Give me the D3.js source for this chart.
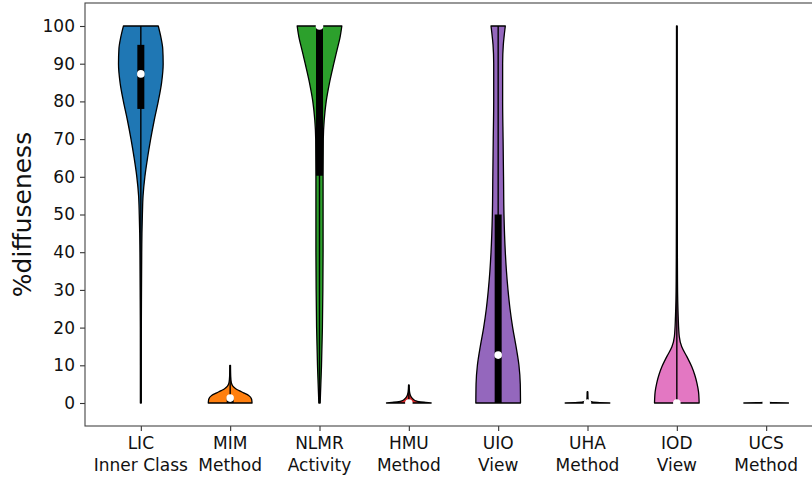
<!DOCTYPE html>
<html>
<head>
<meta charset="utf-8">
<script src="https://cdn.jsdelivr.net/npm/d3@7"></script>
<style>
  body { margin: 0; background: #fff; }
  text { font-family: "DejaVu Sans", sans-serif; }
</style>
</head>
<body>
<div id="chart"></div>
<script>
// Categories (two-line tick labels)
const names = ["LIC", "MIM", "NLMR", "HMU", "UIO", "UHA", "IOD", "UCS"];
const kinds = ["Inner Class", "Method", "Activity", "Method", "View", "Method", "View", "Method"];

// Violin outlines: [value, relative half width]
const licProfile = [[0,0.02],[10,0.02],[20,0.022],[30,0.03],[40,0.04],[45,0.05],[50,0.07],[55,0.1],[60,0.18],[65,0.3],[70,0.44],[75,0.6],[80,0.78],[85,0.93],[90,1.0],[94,0.98],[97,0.9],[100,0.78]];
const mimProfile = [[0,0.98],[1,0.96],[2,0.83],[2.7,0.6],[3.3,0.4],[3.8,0.25],[4.5,0.12],[5.5,0.05],[7,0.025],[10,0.015]];
const nlmrProfile = [[0,0.03],[5,0.06],[10,0.09],[20,0.13],[30,0.15],[40,0.16],[50,0.16],[60,0.16],[70,0.17],[75,0.21],[80,0.3],[85,0.45],[90,0.64],[94,0.8],[97,0.92],[100,1.0]];
const hmuProfile = [[0,1.0],[0.15,0.75],[0.35,0.45],[0.6,0.3],[1,0.2],[1.5,0.12],[2.2,0.06],[3,0.03],[4.8,0.012]];
const uioProfile = [[0,1.0],[5,0.99],[10,0.93],[15,0.8],[20,0.65],[25,0.53],[30,0.44],[35,0.37],[40,0.32],[50,0.26],[60,0.24],[70,0.22],[80,0.2],[90,0.2],[95,0.23],[98,0.28],[100,0.32]];
const uhaProfile = [[0,1.0],[0.12,0.55],[0.3,0.2],[0.6,0.06],[1.2,0.02],[3,0.01]];
const iodProfile = [[0,1.0],[3,0.97],[5.3,0.9],[7.5,0.8],[9.6,0.67],[12.3,0.45],[14.9,0.22],[17.6,0.11],[23,0.06],[32,0.03],[50,0.02],[100,0.015]];
const ucsProfile = [[0,1.0],[0.08,0.4],[0.15,0.1],[0.25,0.02]];
const profiles = [licProfile, mimProfile, nlmrProfile, hmuProfile, uioProfile, uhaProfile, iodProfile, ucsProfile];

// Box statistics
const quartile1 = [78, 0, 60.3, 0, 0, 0, 0, 0];
const medians = [87.3, 1.3, 100, 0, 12.7, 0, 0, 0];
const quartile3 = [95, 1.5, 100, 0, 50, 0, 0, 0];
const whiskerMin = [0, 0, 0, 0, 0, 0, 0, 0];
const whiskerMax = [100, 10, 100, 4.8, 100, 3, 100, 0];

const yTicks = [0, 10, 20, 30, 40, 50, 60, 70, 80, 90, 100];
const colors = ["#1f77b4", "#ff7f0e", "#2ca02c", "#d62728", "#9467bd", "#8c564b", "#e377c2", "#7f7f7f"];

const width = 812, height = 479;
const margin = {top: 3, left: 85, bottom: 426, right: 822};

const svg = d3.select("#chart").append("svg")
    .attr("width", width)
    .attr("height", height);

const x = d3.scaleLinear().domain([0.375, 8.625]).range([margin.left, margin.right]);
const y = d3.scaleLinear().domain([-6.1, 106.1]).range([margin.bottom, margin.top]);
const halfWidth = x(1.25) - x(1);

const plot = svg.append("g");

// Violins
profiles.forEach((prof, i) => {
    const cx = x(i + 1);
    const pts = prof.slice().sort((a, b) => b[0] - a[0]);
    const area = d3.area()
        .curve(d3.curveMonotoneY)
        .y(d => y(d[0]))
        .x0(d => cx - d[1] * halfWidth)
        .x1(d => cx + d[1] * halfWidth);
    plot.append("path")
        .datum(pts)
        .attr("d", area)
        .attr("fill", colors[i])
        .attr("stroke", "#000")
        .attr("stroke-width", 1.3)
        .attr("stroke-linejoin", "round");
});

// Whiskers, quartile bars, medians
names.forEach((n, i) => {
    const cx = x(i + 1);
    plot.append("line")
        .attr("x1", cx).attr("x2", cx)
        .attr("y1", y(whiskerMin[i])).attr("y2", y(whiskerMax[i]))
        .attr("stroke", "#000").attr("stroke-width", 1.4);
    if (quartile3[i] > quartile1[i]) {
        plot.append("line")
            .attr("x1", cx).attr("x2", cx)
            .attr("y1", y(quartile1[i])).attr("y2", y(quartile3[i]))
            .attr("stroke", "#000").attr("stroke-width", 7);
    }
    plot.append("circle")
        .attr("cx", cx).attr("cy", y(medians[i]))
        .attr("r", 3.8)
        .attr("fill", "#fff");
});

// Axes
const yAxis = d3.axisLeft(y).tickValues(yTicks).tickSize(5).tickPadding(5);
const gy = svg.append("g")
    .attr("transform", `translate(${margin.left},0)`)
    .call(yAxis);
gy.select(".domain").remove();
gy.selectAll("line").attr("stroke", "#333").attr("stroke-width", 1.1);
gy.selectAll("text").style("font-size", "17px").attr("fill", "#111");

const xAxis = d3.axisBottom(x).tickValues(d3.range(1, 9)).tickSize(5).tickFormat("");
const gx = svg.append("g")
    .attr("transform", `translate(0,${margin.bottom})`)
    .call(xAxis);
gx.select(".domain").remove();
gx.selectAll("line").attr("stroke", "#333").attr("stroke-width", 1.1);

names.forEach((n, i) => {
    const t = svg.append("text")
        .attr("x", x(i + 1))
        .attr("text-anchor", "middle")
        .style("font-size", "17px")
        .attr("fill", "#111");
    t.append("tspan").attr("x", x(i + 1)).attr("y", 449).text(n);
    t.append("tspan").attr("x", x(i + 1)).attr("y", 471).text(kinds[i]);
});

// Frame
svg.append("rect")
    .attr("x", margin.left).attr("y", margin.top)
    .attr("width", margin.right - margin.left)
    .attr("height", margin.bottom - margin.top)
    .attr("fill", "none")
    .attr("stroke", "#444")
    .attr("stroke-width", 1.1);

// Y label
svg.append("text")
    .attr("transform", `translate(31,${(margin.top + margin.bottom) / 2}) rotate(-90)`)
    .attr("text-anchor", "middle")
    .style("font-size", "25px")
    .attr("fill", "#111")
    .text("%diffuseness");
</script>
</body>
</html>
